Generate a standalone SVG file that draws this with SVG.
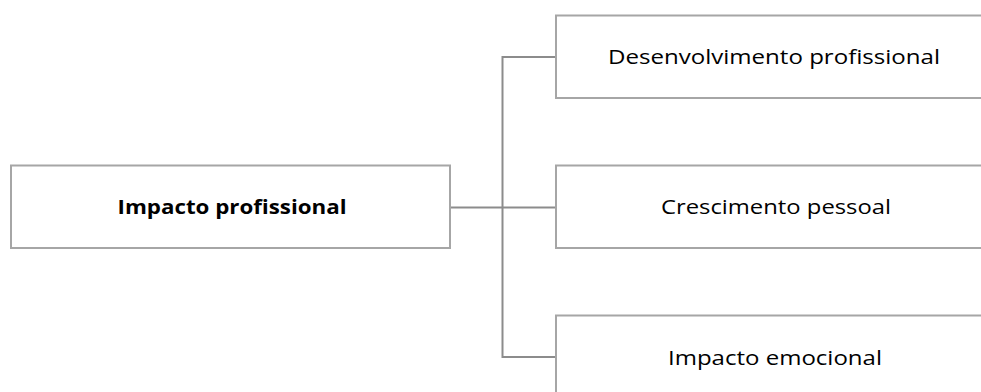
<svg xmlns="http://www.w3.org/2000/svg" width="981" height="392" viewBox="0 0 981 392">
<style>
.box{fill:#ffffff;stroke:#a6a6a6;stroke-width:2}
.conn{fill:none;stroke:#8c8c8c;stroke-width:2}
.t{font-family:"Open Sans","Liberation Sans",sans-serif;font-size:20px;fill:#000000;text-anchor:middle}
.b{font-weight:bold}
</style>
<rect width="981" height="392" fill="#ffffff"/>
<g id="connectors">
<path class="conn" d="M450 207.5 H502.5"/>
<path class="conn" d="M556 57 H502.5 V357 H556"/>
<path class="conn" d="M502.5 207.5 H556"/>
</g>
<g id="node-impacto-profissional">
<rect class="box" x="11" y="165.5" width="439" height="82.5"/>
<text class="t b" x="232" y="213.5" textLength="229" lengthAdjust="spacingAndGlyphs">Impacto profissional</text>
</g>
<g id="node-desenvolvimento">
<rect class="box" x="556" y="15.5" width="440" height="82.5"/>
<text class="t" x="774" y="63.5" textLength="332" lengthAdjust="spacingAndGlyphs">Desenvolvimento profissional</text>
</g>
<g id="node-crescimento">
<rect class="box" x="556" y="165.5" width="440" height="82.5"/>
<text class="t" x="776" y="213.5" textLength="230" lengthAdjust="spacingAndGlyphs">Crescimento pessoal</text>
</g>
<g id="node-emocional">
<rect class="box" x="556" y="315.5" width="440" height="82.5"/>
<text class="t" x="775" y="364.5" textLength="214" lengthAdjust="spacingAndGlyphs">Impacto emocional</text>
</g>
</svg>
